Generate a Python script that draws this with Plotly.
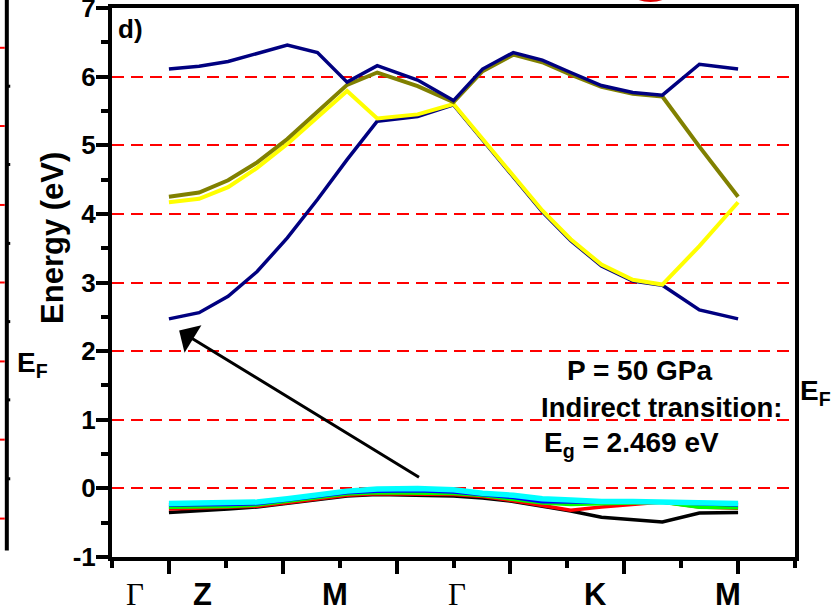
import plotly.graph_objects as go

# ---- data -------------------------------------------------------------
kpath = [1.0, 1.53, 2.04, 2.55, 3.08, 3.61, 4.13, 4.66, 5.37, 6.0,
         6.51, 7.05, 7.56, 8.06, 8.60, 9.15, 9.67, 10.32, 11.0]

# conduction bands
cb_navy_low = [2.47, 2.56, 2.80, 3.16, 3.65, 4.21, 4.79, 5.35, 5.42, 5.59,
               5.08, 4.53, 4.03, 3.61, 3.24, 3.02, 2.96, 2.60, 2.47]
cb_yellow = [4.17, 4.22, 4.39, 4.67, 5.02, 5.41, 5.79, 5.39, 5.45, 5.60,
             5.10, 4.55, 4.05, 3.63, 3.26, 3.04, 2.97, 3.53, 4.17]
cb_olive = [4.25, 4.31, 4.49, 4.75, 5.09, 5.48, 5.88, 6.06, 5.86, 5.63,
            6.08, 6.32, 6.21, 6.03, 5.85, 5.75, 5.71, 4.98, 4.25]
cb_navy_top = [6.11, 6.15, 6.22, 6.34, 6.46, 6.35, 5.92, 6.16, 5.95, 5.65,
               6.11, 6.35, 6.24, 6.06, 5.87, 5.77, 5.73, 6.18, 6.11]

# valence bands
vb_black = [-0.35, -0.33, -0.30, -0.27, -0.22, -0.16, -0.11, -0.09, -0.10, -0.11,
            -0.14, -0.19, -0.26, -0.33, -0.42, -0.46, -0.49, -0.36, -0.35]
vb_red = [-0.30, -0.29, -0.28, -0.26, -0.21, -0.15, -0.10, -0.08, -0.08, -0.09,
          -0.12, -0.18, -0.25, -0.32, -0.27, -0.23, -0.20, -0.27, -0.29]
vb_green = [-0.27, -0.27, -0.26, -0.24, -0.19, -0.13, -0.08, -0.06, -0.06, -0.07,
            -0.10, -0.15, -0.21, -0.23, -0.22, -0.21, -0.20, -0.27, -0.28]
vb_blue = [-0.24, -0.24, -0.23, -0.22, -0.17, -0.11, -0.06, -0.04, -0.03, -0.05,
           -0.09, -0.13, -0.19, -0.20, -0.20, -0.20, -0.20, -0.22, -0.24]
vb_cyan = [-0.22, -0.22, -0.21, -0.20, -0.15, -0.09, -0.04, -0.01, 0.0, -0.02,
           -0.07, -0.10, -0.15, -0.17, -0.19, -0.19, -0.20, -0.21, -0.22]

# high-symmetry labels
k_labels = ["Γ", "Z", "M", "Γ", "K", "M"]
k_label_pos = [0.40, 1.59, 3.91, 6.06, 8.50, 10.83]

# energy tick labels
e_ticks = [-1, 0, 1, 2, 3, 4, 5, 6, 7]
e_tick_text = ["-1", "0", "1", "2", "3", "4", "5", "6", "7"]

# arrow (indirect transition) endpoints in data units
arrow_tail = (5.42, 0.15)
arrow_head = (1.18, 2.30)

# neighbouring panel fragments (energy units of this panel)
left_panel_grid = [6.42, 5.28, 4.13, 3.0, 1.85, 0.71, -0.44]
left_panel_minor = [5.86, 4.72, 3.57, 2.43, 1.29, 0.14]

# ---- figure -----------------------------------------------------------
FONT = "Liberation Sans, Arial, sans-serif"
fig = go.Figure()

bands = [
    (vb_black, "#000000", 3.5),
    (vb_red, "#FF0000", 3.5),
    (vb_green, "#00FF00", 4),
    (vb_blue, "#0000FF", 4),
    (vb_cyan, "#00FFFF", 5.5),
    (cb_navy_low, "#000080", 3.5),
    (cb_yellow, "#FFFF00", 4),
    (cb_olive, "#808000", 4),
    (cb_navy_top, "#000080", 3.5),
]
for ys, col, w in bands:
    fig.add_trace(go.Scatter(x=kpath, y=ys, mode="lines",
                             line=dict(color=col, width=w),
                             showlegend=False, hoverinfo="skip"))

fig.update_layout(
    width=832, height=611,
    margin=dict(l=112, r=37, t=8, b=54, pad=0, autoexpand=False),
    plot_bgcolor="white", paper_bgcolor="white",
    font=dict(family=FONT, color="black"),
    showlegend=False,
    xaxis=dict(range=[0, 12], showline=True, linewidth=4, linecolor="black",
               mirror=True, ticks="outside", tick0=1, dtick=2, ticklen=13,
               tickwidth=4, tickcolor="black", showticklabels=False,
               showgrid=False, zeroline=False, automargin=False,
               minor=dict(tick0=0, dtick=1, ticks="outside", ticklen=7,
                          tickwidth=4, tickcolor="black", showgrid=False)),
    xaxis2=dict(range=[0, 12], overlaying="x", side="top", showline=False,
                ticks="inside", tick0=1, dtick=2, ticklen=11, tickwidth=4,
                tickcolor="black", showticklabels=False, showgrid=False,
                zeroline=False, automargin=False,
                minor=dict(tick0=0, dtick=1, ticks="inside", ticklen=7,
                           tickwidth=4, tickcolor="black", showgrid=False)),
    yaxis=dict(range=[-1, 7], showline=True, linewidth=4, linecolor="black",
               mirror=True, ticks="outside", tickmode="array",
               tickvals=e_ticks, ticktext=e_tick_text, ticklen=12,
               tickwidth=4, tickcolor="black", ticklabeloverflow="allow",
               ticklabelstandoff=-5, automargin=False,
               tickfont=dict(family=FONT, size=26, weight="bold", color="black"),
               showgrid=True, gridcolor="#FF0000", gridwidth=1.5,
               griddash="12px,7px", zeroline=False,
               minor=dict(tickmode="linear", tick0=-1, dtick=0.5,
                          ticks="outside", ticklen=7, tickwidth=4,
                          tickcolor="black", showgrid=False)),
    yaxis2=dict(range=[-1, 7], overlaying="y", side="right", showline=False,
                ticks="outside", dtick=1, ticklen=4, tickwidth=3,
                tickcolor="black", showticklabels=False, showgrid=False,
                zeroline=False, automargin=False,
                minor=dict(dtick=0.5, ticks="outside", ticklen=3, tickwidth=3,
                           tickcolor="black", showgrid=False)),
)

ann = []
# arrow
ann.append(dict(x=arrow_head[0], y=arrow_head[1], ax=arrow_tail[0], ay=arrow_tail[1],
                xref="x", yref="y", axref="x", ayref="y", text="",
                showarrow=True, arrowhead=1, arrowsize=1.8, arrowwidth=3,
                arrowcolor="black"))
# k-point labels
for lab, pos in zip(k_labels, k_label_pos):
    serif = lab == "Γ"
    ann.append(dict(x=pos, y=-0.069, xref="x", yref="paper", text=lab,
                    showarrow=False, xanchor="center", yanchor="middle",
                    font=dict(family=("Liberation Serif, Times New Roman, serif" if serif else FONT),
                              size=31, weight=("normal" if serif else "bold"),
                              color="black")))
# axis title
ann.append(dict(x=-0.088, y=0.581, xref="paper", yref="paper", text="Energy (eV)",
                textangle=-90, showarrow=False, xanchor="center", yanchor="middle",
                font=dict(family=FONT, size=31, weight="bold", color="black")))
# panel label
ann.append(dict(x=0.006, y=0.961, xref="paper", yref="paper", text="d)",
                showarrow=False, xanchor="left", yanchor="middle",
                font=dict(family=FONT, size=26, weight="bold", color="black")))
# info text
ann.append(dict(x=9.27, y=1.72, xref="x", yref="y", text="P = 50 GPa",
                showarrow=False, xanchor="center", yanchor="middle",
                font=dict(family=FONT, size=28, weight="bold", color="black")))
ann.append(dict(x=9.66, y=1.18, xref="x", yref="y", text="Indirect transition:",
                showarrow=False, xanchor="center", yanchor="middle",
                font=dict(family=FONT, size=27.5, weight="bold", color="black")))
ann.append(dict(x=7.56, y=0.64, xref="x", yref="y", text="E<sub>g</sub> = 2.469 eV",
                showarrow=False, xanchor="left", yanchor="middle",
                font=dict(family=FONT, size=28, weight="bold", color="black")))
# Fermi level labels
ann.append(dict(x=-0.142, y=0.35, xref="paper", yref="paper", text="E<sub>F</sub>",
                showarrow=False, xanchor="left", yanchor="middle",
                font=dict(family=FONT, size=28, weight="bold", color="black")))
ann.append(dict(x=1.004, y=0.30, xref="paper", yref="paper", text="E<sub>F</sub>",
                showarrow=False, xanchor="left", yanchor="middle",
                font=dict(family=FONT, size=28, weight="bold", color="black")))
fig.update_layout(annotations=ann)

# neighbouring panel fragments (left edge)
shapes = [dict(type="line", xref="paper", yref="paper", x0=-0.154, x1=-0.154,
               y0=0.012, y1=1.02, line=dict(color="black", width=4))]
for gy in left_panel_grid:
    shapes.append(dict(type="line", xref="paper", yref="y", x0=-0.165, x1=-0.157,
                       y0=gy, y1=gy, line=dict(color="#FF0000", width=2)))
for gy in left_panel_minor:
    shapes.append(dict(type="line", xref="paper", yref="y", x0=-0.154, x1=-0.149,
                       y0=gy, y1=gy, line=dict(color="black", width=3)))
# red outline fragment at the very top
shapes.append(dict(type="circle", xref="paper", yref="paper", x0=0.755, x1=0.822,
                   y0=1.0135, y1=1.07, line=dict(color="#E00000", width=3)))
fig.update_layout(shapes=shapes)

fig.write_html("out.html")
